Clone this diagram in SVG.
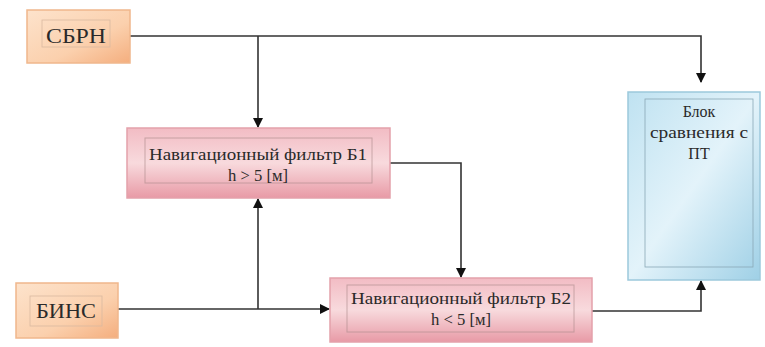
<svg xmlns="http://www.w3.org/2000/svg" width="765" height="347" viewBox="0 0 765 347">
<style>
text{font-family:'Liberation Serif','DejaVu Serif',serif}
.t{fill:#2a2a2a;text-anchor:middle}
.big{font-size:21px}
.mid{font-size:16px}
.inner{fill:none;stroke:#a88;stroke-width:1;opacity:0.6}
.conn{fill:none;stroke:#333;stroke-width:1.6}
</style>
<defs>
<linearGradient id="gOr" x1="0" y1="0" x2="1" y2="1">
<stop offset="0" stop-color="#fde3cc"/><stop offset="0.6" stop-color="#fbd0ad"/><stop offset="1" stop-color="#f4ae7e"/>
</linearGradient>
<linearGradient id="gPk" x1="0" y1="0" x2="0" y2="1">
<stop offset="0" stop-color="#f2bcc4"/><stop offset="0.5" stop-color="#f8dadd"/><stop offset="1" stop-color="#e89aa6"/>
</linearGradient>
<linearGradient id="gBl" x1="0" y1="0" x2="1" y2="1">
<stop offset="0" stop-color="#bfe2f1"/><stop offset="0.5" stop-color="#e3f3fa"/><stop offset="1" stop-color="#9fd0e6"/>
</linearGradient>
<marker id="ar" markerWidth="10" markerHeight="10" refX="9" refY="5" orient="auto" markerUnits="userSpaceOnUse">
<path d="M0,0 L10,5 L0,10 Z" fill="#111"/>
</marker>
</defs>

<g id="connectors">
<polyline class="conn" points="130,36 701,36 701,82" marker-end="url(#ar)"/>
<line class="conn" x1="258" y1="36" x2="258" y2="127" marker-end="url(#ar)"/>
<line class="conn" x1="118" y1="309" x2="329" y2="309" marker-end="url(#ar)"/>
<line class="conn" x1="258" y1="309" x2="258" y2="199" marker-end="url(#ar)"/>
<polyline class="conn" points="390,163 461,163 461,277" marker-end="url(#ar)"/>
<polyline class="conn" points="592,311 701,311 701,281" marker-end="url(#ar)"/>
</g>

<g id="sbrn">
<rect x="27" y="10" width="103" height="53" fill="url(#gOr)" stroke="#f0b78c" stroke-width="1.5"/>
<rect x="42" y="20" width="68" height="27" fill="none" stroke="#d9b9a0" stroke-width="0.8"/>
<text class="t big" font-family="Liberation Serif, serif" x="76" y="43" textLength="60" lengthAdjust="spacingAndGlyphs">СБРН</text>
</g>

<g id="bins">
<rect x="16" y="283" width="102" height="55" fill="url(#gOr)" stroke="#f0b78c" stroke-width="1.5"/>
<rect x="30" y="296" width="72" height="30" fill="none" stroke="#d9b9a0" stroke-width="0.8"/>
<text class="t big" font-family="Liberation Serif, serif" x="66" y="318" textLength="60" lengthAdjust="spacingAndGlyphs">БИНС</text>
</g>

<g id="filterB1">
<rect x="127" y="128" width="263" height="70" fill="url(#gPk)" stroke="#e4a1ab" stroke-width="1.5"/>
<rect x="145" y="138" width="227" height="45" class="inner"/>
<text class="t mid" font-family="Liberation Serif, serif" x="258" y="160" textLength="218" lengthAdjust="spacingAndGlyphs">Навигационный фильтр Б1</text>
<text class="t mid" font-family="Liberation Serif, serif" x="258" y="181" textLength="60" lengthAdjust="spacingAndGlyphs">h &gt; 5 [м]</text>
</g>

<g id="filterB2">
<rect x="330" y="278" width="262" height="64" fill="url(#gPk)" stroke="#e4a1ab" stroke-width="1.5"/>
<rect x="347" y="285" width="227" height="47" class="inner"/>
<text class="t mid" font-family="Liberation Serif, serif" x="461" y="304" textLength="220" lengthAdjust="spacingAndGlyphs">Навигационный фильтр Б2</text>
<text class="t mid" font-family="Liberation Serif, serif" x="461" y="325" textLength="60" lengthAdjust="spacingAndGlyphs">h &lt; 5 [м]</text>
</g>

<g id="compare">
<rect x="628" y="92" width="132" height="188" fill="url(#gBl)" stroke="#9cc9dc" stroke-width="1.5"/>
<rect x="645" y="99" width="108" height="168" fill="none" stroke="#8aa9b6" stroke-width="0.8"/>
<text class="t mid" font-family="Liberation Serif, serif" x="699" y="117">Блок</text>
<text class="t mid" font-family="Liberation Serif, serif" x="699" y="138" textLength="98" lengthAdjust="spacingAndGlyphs">сравнения с</text>
<text class="t mid" font-family="Liberation Serif, serif" x="699" y="159">ПТ</text>
</g>
</svg>
